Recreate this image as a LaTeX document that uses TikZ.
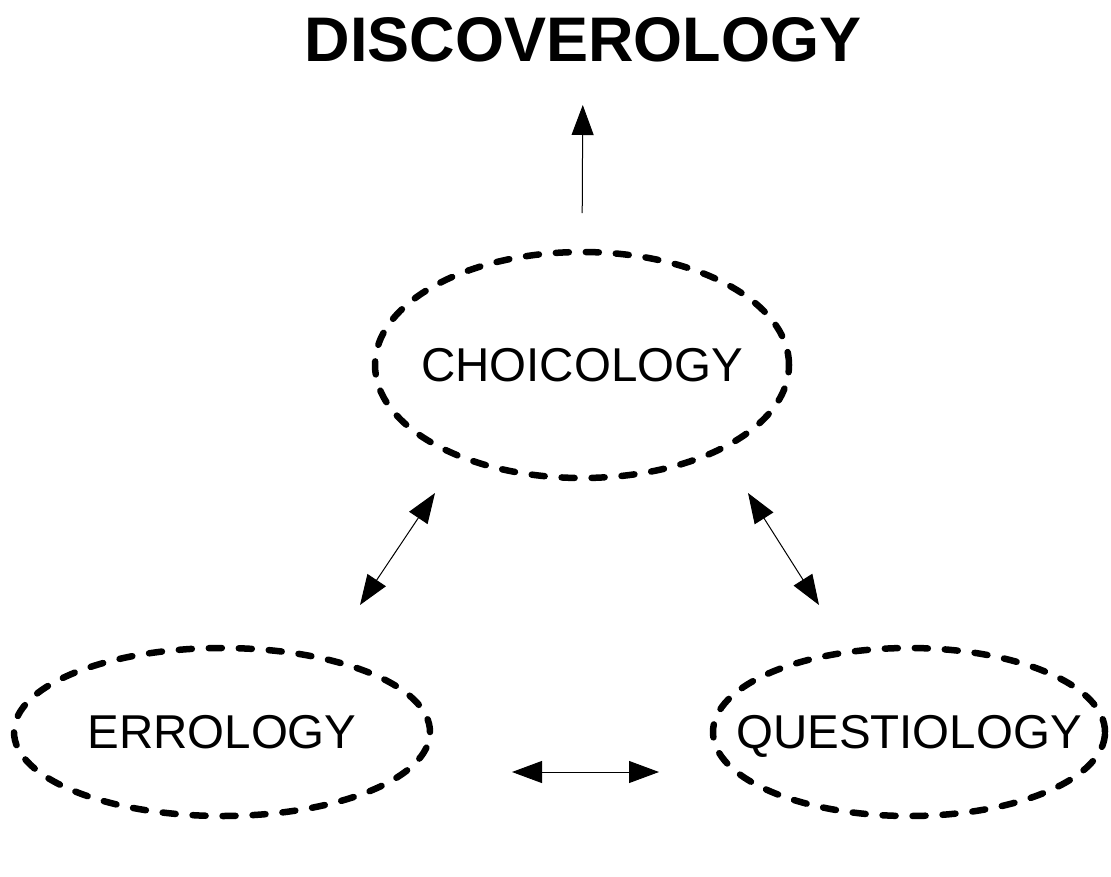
\documentclass[tikz,border=0pt]{standalone}
\usepackage{fontspec}
\setmainfont{Liberation Sans}
\usepackage{tikz}
\usetikzlibrary{positioning, arrows.meta, shapes.geometric, calc}

\begin{document}
\begin{tikzpicture}[
  x=1pt, y=1pt,
  bubble/.style={
    ellipse, draw=black, line width=6.5pt, line cap=round,
    dash pattern=on 13pt off 17pt, inner sep=-60pt, outer sep=0pt,
    text depth=0pt, font=\fontsize{47.5}{52}\selectfont
  },
  heading/.style={inner sep=0pt, outer sep=0pt,
    font=\fontsize{63}{70}\selectfont\bfseries},
  arrow/.style={-{Triangle[length=30pt, width=22pt]}, line width=1pt},
  both/.style={{Triangle[length=30pt, width=22pt]}-{Triangle[length=30pt, width=22pt]},
    line width=1pt},
]
\useasboundingbox (0,0) rectangle (1111,-876);

% --- Centre bubble and heading ---
\node[bubble, minimum width=414pt, minimum height=226pt] (choice) at (582,-365)
  {CHOICOLOGY};
\node[heading, above=190pt of choice, xshift=1pt] (title) {DISCOVEROLOGY};

% --- Bottom row ---
\node[bubble, minimum width=416pt, minimum height=168pt,
      below=170pt of choice, xshift=-360pt] (err) {ERROLOGY};
\node[bubble, minimum width=392pt, minimum height=168pt,
      right=283pt of err] (quest) {QUESTIOLOGY};

% --- Arrows ---
\draw[arrow, shorten <=39pt, shorten >=43pt] (choice.north) -- (title.south);
\draw[both] ($(choice.south)+(-147,-15)$) -- ($(err.north)+(138,43)$);
\draw[both] ($(choice.south)+(166,-15)$) -- ($(quest.north)+(-90,43)$);
\draw[both] ($(err.east)+(82,-40)$) -- ($(quest.west)+(-54,-40)$);

\end{tikzpicture}
\end{document}
